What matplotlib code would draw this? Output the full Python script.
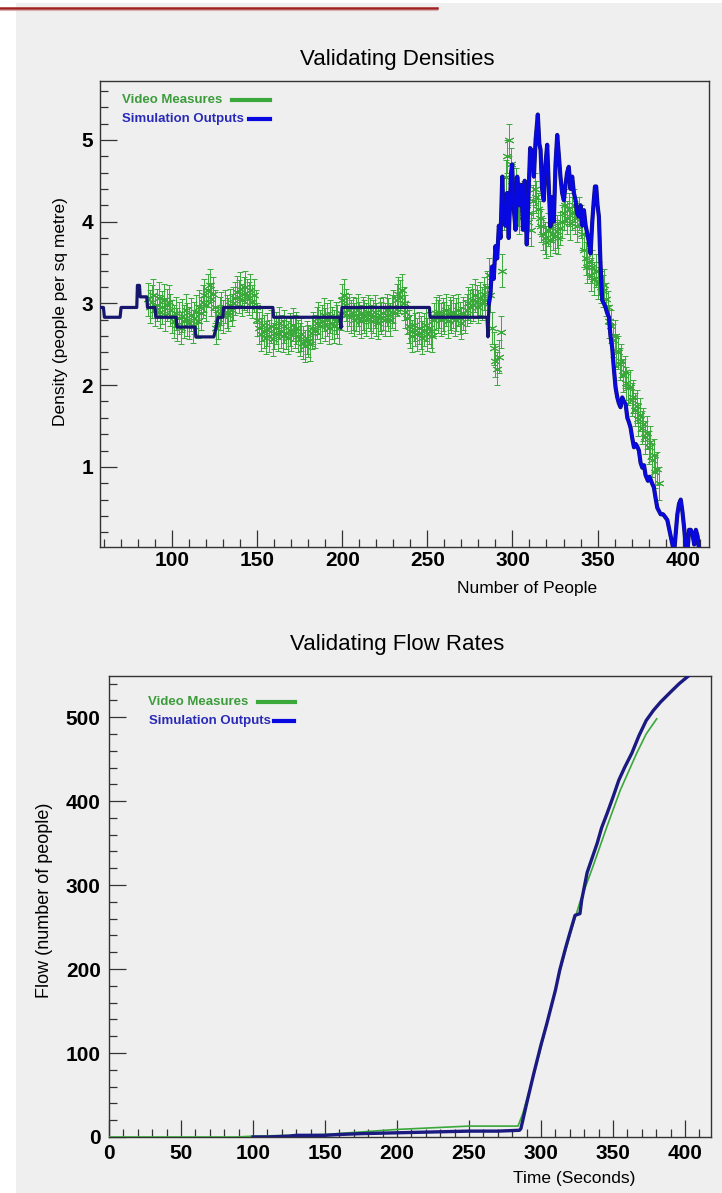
import numpy as np
import matplotlib
matplotlib.use('Agg')
import matplotlib.pyplot as plt
from matplotlib.lines import Line2D
from matplotlib.patches import Rectangle
from matplotlib.ticker import MultipleLocator

plt.rcParams['font.family'] = ['Liberation Sans', 'DejaVu Sans']

# ---------------- Data: density chart ----------------
video_people = list(range(86, 387))
video_density = [
    3.05, 2.96, 3.02, 3.10, 2.92, 2.98, 3.06, 2.90, 2.95, 3.04,
    2.86, 2.98, 3.02, 2.92, 2.84, 2.78, 2.88, 2.74, 2.82, 2.70,
    2.85, 2.78, 2.92, 2.80, 2.76, 2.86, 2.72, 2.82, 2.90, 2.78,
    2.96, 2.88, 3.02, 3.10, 2.98, 3.16, 3.22, 3.05, 3.12, 2.96,
    2.70, 2.76, 2.88, 2.94, 2.84, 2.96, 2.90, 2.86, 2.98, 2.92,
    3.00, 3.06, 3.14, 3.08, 3.18, 3.04, 3.12, 3.20, 3.10, 3.06,
    3.16, 3.02, 3.10, 2.96, 2.80, 2.70, 2.62, 2.74, 2.66, 2.58,
    2.68, 2.60, 2.72, 2.56, 2.64, 2.70, 2.62, 2.76, 2.66, 2.60,
    2.72, 2.64, 2.58, 2.68, 2.62, 2.74, 2.66, 2.70, 2.60, 2.56,
    2.62, 2.52, 2.48, 2.58, 2.54, 2.50, 2.64, 2.70, 2.66, 2.76,
    2.82, 2.72, 2.78, 2.86, 2.74, 2.80, 2.70, 2.84, 2.76, 2.72,
    2.82, 2.78, 2.70, 2.88, 3.04, 3.10, 2.98, 2.86, 2.92, 2.84,
    2.88, 2.80, 2.86, 2.92, 2.82, 2.78, 2.88, 2.84, 2.80, 2.90,
    2.86, 2.78, 2.84, 2.90, 2.80, 2.76, 2.86, 2.82, 2.88, 2.80,
    2.92, 2.86, 2.80, 2.90, 2.96, 2.88, 3.04, 3.12, 3.08, 3.16,
    3.00, 2.90, 2.82, 2.72, 2.66, 2.60, 2.74, 2.68, 2.62, 2.70,
    2.64, 2.58, 2.68, 2.74, 2.62, 2.70, 2.66, 2.60, 2.80, 2.88,
    2.84, 2.90, 2.80, 2.86, 2.82, 2.92, 2.78, 2.88, 2.84, 2.90,
    2.80, 2.86, 2.92, 2.82, 2.76, 2.88, 2.84, 2.92, 3.00, 2.96,
    3.04, 2.98, 3.10, 3.02, 2.96, 3.06, 3.00, 3.12, 3.04, 3.20,
    3.35, 3.10, 2.70, 2.45, 2.30, 2.20, 2.35, 2.65, 3.40, 4.10,
    4.55, 4.80, 5.00, 4.70, 4.50, 4.35, 4.45, 4.15, 4.05, 4.25,
    4.10, 4.30, 4.20, 4.00, 4.10, 3.90, 4.25, 4.40, 4.30, 4.15,
    4.05, 3.95, 3.85, 3.80, 3.75, 3.90, 3.78, 3.95, 3.85, 3.82,
    3.88, 3.80, 3.92, 4.00, 4.10, 4.20, 4.05, 4.15, 3.98, 4.10,
    4.20, 4.05, 3.95, 4.10, 4.00, 3.85, 3.65, 3.55, 3.45, 3.50,
    3.35, 3.45, 3.30, 3.40, 3.25, 3.30, 3.20, 3.15, 3.22, 3.05,
    2.95, 2.78, 2.72, 2.55, 2.60, 2.42, 2.40, 2.26, 2.30, 2.12,
    2.16, 2.02, 1.96, 1.98, 1.82, 1.86, 1.70, 1.74, 1.58, 1.64,
    1.48, 1.52, 1.36, 1.42, 1.24, 1.30, 1.08, 1.14, 0.94, 0.98,
    0.80,
]
video_density_err = 0.2

sim_people = [
    57.6, 59.6, 60.2, 69.4, 70.0, 79.2, 79.6, 80.8, 81.2, 85.1,
    85.5, 90.0, 90.4, 102.4, 102.8, 113.5, 113.9, 124.5, 126.0, 127.0,
    129.8, 130.2, 159.2, 159.6, 198.6, 199.2, 199.8, 251.2, 251.6, 285.0,
    285.6, 286.2, 287.0, 288.0, 289.0, 290.0, 291.0, 292.0, 293.0, 294.0,
    294.8, 295.8, 296.8, 297.8, 299.2, 299.8, 300.8, 301.8, 302.8, 304.0,
    305.2, 306.2, 307.2, 308.4, 309.4, 310.4, 311.6, 312.6, 313.6, 314.9,
    315.8, 316.5, 317.4, 318.4, 319.4, 320.4, 321.4, 322.3, 323.3, 324.3,
    325.3, 326.3, 327.3, 328.2, 329.2, 330.2, 331.2, 332.1, 333.1, 334.1,
    335.1, 336.1, 337.1, 338.0, 339.0, 340.0, 341.0, 342.0, 343.0, 343.9,
    344.9, 345.9, 346.9, 347.8, 348.5, 349.2, 350.0, 350.8, 351.7, 352.7,
    353.7, 354.7, 355.7, 356.7, 357.6, 358.6, 359.6, 360.6, 361.6, 362.5,
    363.5, 364.5, 365.5, 366.5, 367.5, 368.4, 369.4, 370.4, 371.4, 372.4,
    373.3, 374.3, 375.3, 376.3, 377.3, 378.2, 379.6, 380.6, 382.0, 383.1,
    384.1, 385.1, 386.1, 387.1, 388.5, 390.0, 391.0, 392.0, 393.0, 394.0,
    395.0, 396.0, 396.9, 397.9, 398.9, 399.9, 400.9, 401.8, 402.8, 403.8,
    404.8, 405.8, 406.8, 407.8, 408.8, 409.8,
]
sim_density = [
    2.95, 2.95, 2.83, 2.83, 2.95, 2.95, 3.22, 3.22, 3.08, 3.08,
    2.95, 2.95, 2.83, 2.83, 2.71, 2.71, 2.59, 2.59, 2.72, 2.83,
    2.83, 2.95, 2.95, 2.83, 2.83, 2.70, 2.95, 2.95, 2.83, 2.83,
    2.59, 3.00, 3.10, 3.45, 3.30, 3.70, 3.55, 3.95, 3.80, 4.55,
    4.05, 3.95, 4.35, 3.80, 4.60, 4.70, 4.15, 3.90, 4.55, 4.20,
    4.45, 3.90, 4.50, 3.72, 4.30, 4.90, 4.85, 4.55, 5.00, 5.31,
    4.95, 4.88, 4.40, 4.26, 4.70, 4.94, 4.40, 3.94, 4.30, 4.00,
    4.70, 5.06, 4.80, 4.55, 4.35, 4.26, 4.45, 4.60, 4.67, 4.40,
    4.55, 4.35, 4.26, 4.10, 4.06, 4.20, 3.95, 4.14, 3.95, 3.86,
    3.75, 3.61, 4.00, 4.26, 4.43, 4.43, 4.20, 4.06, 3.50, 3.04,
    3.00, 2.95, 2.88, 2.83, 2.60, 2.46, 2.20, 1.97, 1.85, 1.78,
    1.73, 1.85, 1.80, 1.77, 1.60, 1.55, 1.48, 1.35, 1.24, 1.28,
    1.25, 1.20, 1.05, 0.99, 1.02, 0.90, 0.83, 0.88, 0.80, 0.75,
    0.62, 0.50, 0.46, 0.42, 0.42, 0.38, 0.35, 0.25, 0.15, 0.05,
    -0.05, 0.20, 0.42, 0.55, 0.60, 0.45, 0.25, 0.05, -0.05, 0.23,
    0.23, 0.18, 0.05, 0.23, 0.15, -0.05,
]
SIM_FLAT_END = 31  # index where the simulated density leaves its plateau

# ---------------- Data: flow chart ----------------
video_time = [0, 88, 100, 125, 150, 175, 200, 225, 250, 284, 287.3, 295, 304,
              313, 320, 327, 336, 345.6, 355, 366.4, 373, 380.3]
video_flow = [0, 0, 1, 2, 3, 6, 9, 11, 13, 13, 28, 74, 134,
              197, 240, 280, 322, 369, 413, 457, 480, 498]

sim_time = [100, 110, 125, 130, 150, 160, 175, 200, 225, 250, 270, 285, 286,
            290, 295, 300, 304, 310, 313, 317, 320, 323.6, 327, 328.2, 332,
            336, 339, 342, 346, 350, 354, 358, 363, 368, 373, 378, 383, 390,
            396, 402.3, 405]
sim_flow = [0, 0, 1, 2, 2, 3, 4, 5, 6, 7, 7, 8, 10,
            40, 76, 110, 135, 175, 199, 225, 243, 264, 266, 282, 315,
            335, 350, 368, 386, 405, 425, 440, 457, 478, 496, 508, 518, 530,
            540, 549, 553]

# ---------------- Styling ----------------
W, H = 722, 1193
BG = '#efefef'
GREEN = '#3aa83a'
GREEN_TXT = '#3c9c3c'
BLUE = '#0808e0'
BLUE_TXT = '#2a2ab8'
NAVY = '#16166e'
NAVY2 = '#1a1a80'

fig = plt.figure(figsize=(W / 100, H / 100), dpi=100)
fig.patch.set_facecolor('white')


def fx(px):
    return px / W


def fy(py):
    return 1 - py / H


fig.add_artist(Rectangle((fx(16), 0), 1 - fx(16), fy(3), transform=fig.transFigure,
                         facecolor=BG, edgecolor='none', zorder=-10))
fig.add_artist(Line2D([0, fx(437)], [fy(7.5), fy(7.5)], transform=fig.transFigure,
                      color='#a02020', lw=1.8))
fig.add_artist(Line2D([0, fx(437)], [fy(9.8), fy(9.8)], transform=fig.transFigure,
                      color='#d9b0b0', lw=0.8))


def style_axes(ax):
    ax.set_facecolor(BG)
    for s in ax.spines.values():
        s.set_color('#333333')
        s.set_linewidth(1.0)
    ax.tick_params(which='both', direction='in', top=False, right=False,
                   colors='#333333', labelcolor='black', width=0.9)
    ax.tick_params(which='major', length=12)
    ax.tick_params(which='minor', length=6)
    for lab in ax.get_xticklabels() + ax.get_yticklabels():
        lab.set_fontweight('bold')
        lab.set_fontsize(15)


# ---------------- Density chart ----------------
ax1 = fig.add_axes([fx(100), fy(547), fx(709) - fx(100), fy(81) - fy(547)])
ax1.errorbar(video_people, video_density, yerr=video_density_err, fmt='none',
             ecolor=GREEN, elinewidth=0.7, capsize=2.5, capthick=0.7, zorder=2)
ax1.plot(video_people, video_density, linestyle='none', marker=(6, 2, 0),
         markersize=7, markeredgewidth=0.7, color=GREEN, zorder=3)
ax1.plot(sim_people[:SIM_FLAT_END + 1], sim_density[:SIM_FLAT_END + 1],
         color=NAVY, lw=2.3, zorder=4)
ax1.plot(sim_people[SIM_FLAT_END:], sim_density[SIM_FLAT_END:],
         color=NAVY, lw=3.0, zorder=4)
ax1.plot(sim_people[SIM_FLAT_END:], sim_density[SIM_FLAT_END:],
         color=BLUE, lw=2.2, zorder=5)
ax1.set_xlim(57.6, 415.5)
ax1.set_ylim(0.02, 5.72)
ax1.xaxis.set_major_locator(MultipleLocator(50))
ax1.xaxis.set_minor_locator(MultipleLocator(10))
ax1.yaxis.set_major_locator(MultipleLocator(1))
ax1.yaxis.set_minor_locator(MultipleLocator(0.2))
ax1.set_xticks([100, 150, 200, 250, 300, 350, 400])
ax1.set_yticks([1, 2, 3, 4, 5])
ax1.tick_params(axis='x', pad=3)
ax1.tick_params(axis='y', pad=5)
style_axes(ax1)

fig.text(fx(397), fy(60), 'Validating Densities', ha='center', va='center', fontsize=16)
fig.text(fx(527), fy(588), 'Number of People', ha='center', va='center', fontsize=12.5)
fig.text(fx(60), fy(312), 'Density (people per sq metre)', ha='center', va='center',
         fontsize=12.5, rotation=90)

# legend (density)
fig.text(fx(122), fy(100), 'Video Measures', ha='left', va='center', fontsize=9.5,
         fontweight='bold', color=GREEN_TXT)
fig.add_artist(Line2D([fx(232), fx(270)], [fy(100), fy(100)], transform=fig.transFigure,
                      color=GREEN, lw=3))
fig.text(fx(122), fy(119), 'Simulation Outputs', ha='left', va='center', fontsize=9.5,
         fontweight='bold', color=BLUE_TXT)
fig.add_artist(Line2D([fx(249), fx(270)], [fy(119), fy(119)], transform=fig.transFigure,
                      color=BLUE, lw=3))

# ---------------- Flow chart ----------------
ax2 = fig.add_axes([fx(109), fy(1137), fx(711) - fx(109), fy(676) - fy(1137)])
ax2.plot(video_time, video_flow, color=GREEN, lw=1.2, zorder=3)
ax2.plot(sim_time, sim_flow, color=NAVY2, lw=2.4, zorder=4)
ax2.set_xlim(0, 418)
ax2.set_ylim(0, 549)
ax2.xaxis.set_major_locator(MultipleLocator(50))
ax2.xaxis.set_minor_locator(MultipleLocator(10))
ax2.yaxis.set_major_locator(MultipleLocator(100))
ax2.yaxis.set_minor_locator(MultipleLocator(20))
ax2.tick_params(axis='x', pad=5)
ax2.tick_params(axis='y', pad=6)
style_axes(ax2)

fig.text(fx(397), fy(644), 'Validating Flow Rates', ha='center', va='center', fontsize=16)
fig.text(fx(574), fy(1178), 'Time (Seconds)', ha='center', va='center', fontsize=12.5)
fig.text(fx(45), fy(900), 'Flow (number of people)', ha='center', va='center',
         fontsize=13, rotation=90)

fig.text(fx(148), fy(702), 'Video Measures', ha='left', va='center', fontsize=9.5,
         fontweight='bold', color=GREEN_TXT)
fig.add_artist(Line2D([fx(258), fx(295)], [fy(702), fy(702)], transform=fig.transFigure,
                      color=GREEN, lw=3))
fig.text(fx(149), fy(721), 'Simulation Outputs', ha='left', va='center', fontsize=9.5,
         fontweight='bold', color=BLUE_TXT)
fig.add_artist(Line2D([fx(274), fx(294)], [fy(721), fy(721)], transform=fig.transFigure,
                      color=BLUE, lw=3))

fig.savefig('out.png', dpi=100, facecolor=fig.get_facecolor())
